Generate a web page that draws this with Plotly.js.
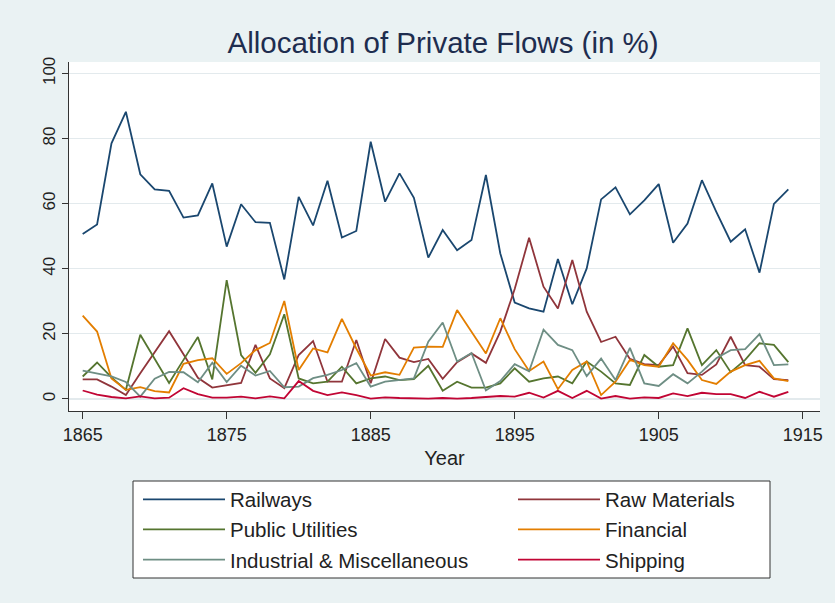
<!DOCTYPE html>
<html>
<head>
<meta charset="utf-8">
<script src="https://cdn.plot.ly/plotly-3.0.1.min.js"></script>
<style>html,body{margin:0;padding:0;background:#eaf2f3;}</style>
</head>
<body>
<div id="chart" style="width:835px;height:603px;"></div>
<script>
const years = [];
for (let y = 1865; y <= 1914; y++) years.push(y);

const railways = [50.7,53.6,78.5,88.2,69.0,64.4,63.9,55.7,56.4,66.2,46.8,59.8,54.3,54.1,36.7,62.1,53.3,67.0,49.6,51.6,79.0,60.6,69.3,61.8,43.4,51.9,45.7,48.8,68.8,44.7,29.6,27.8,26.8,43.0,29.1,40.1,61.3,65.0,56.7,61.0,66.0,48.0,53.9,67.2,57.5,48.3,52.1,38.8,59.9,64.4];
const rawMaterials = [6.0,6.0,3.8,1.2,7.9,14.3,20.8,13.7,6.5,3.5,4.1,4.9,16.6,6.3,3.3,13.5,17.8,5.3,5.3,18.1,4.8,18.4,12.7,11.3,12.3,6.2,11.3,14.0,11.1,20.7,33.8,49.5,34.5,27.8,42.7,26.8,17.5,19.1,12.3,10.7,10.4,16.1,7.9,7.4,10.6,19.1,10.4,9.9,6.1,5.8];
const publicUtilities = [6.9,11.2,6.6,2.8,19.7,12.3,4.9,12.0,19.0,6.0,36.5,13.5,8.0,13.7,26.0,6.3,4.8,5.3,9.9,4.8,6.3,6.9,5.8,6.1,10.2,2.5,5.3,3.5,3.5,4.8,9.4,5.3,6.3,6.9,4.8,11.5,8.4,4.8,4.3,13.5,9.9,10.4,21.7,10.4,15.0,8.2,12.0,17.1,16.6,11.3];
const financial = [25.6,20.7,6.3,2.8,3.6,2.4,2.0,10.8,11.9,12.5,7.7,11.0,15.0,17.2,30.1,8.9,15.5,14.3,24.6,15.5,7.2,8.2,7.4,15.8,16.1,16.0,27.3,20.7,14.0,24.8,15.3,8.6,11.5,3.0,8.9,11.5,1.2,5.3,12.0,10.4,9.9,17.1,12.0,5.8,4.6,8.4,10.4,11.7,6.3,5.5];
const industrial = [8.7,7.9,6.9,5.2,0.7,6.2,8.3,8.2,5.1,11.1,5.2,10.2,7.2,8.6,3.6,3.8,6.4,7.4,8.9,11.0,3.8,5.3,5.8,6.3,17.6,23.5,11.5,14.1,2.6,5.5,10.7,8.5,21.3,16.6,15.0,7.0,12.4,5.8,15.7,4.8,4.0,7.6,4.8,8.4,12.5,15.0,15.3,19.9,10.4,10.6];
const shipping = [2.6,1.3,0.6,0.2,0.8,0.2,0.4,3.3,1.5,0.4,0.4,0.7,0.2,0.8,0.2,5.5,2.5,1.2,2.0,1.2,0.1,0.5,0.3,0.1,0.1,0.3,0.1,0.3,0.7,0.9,0.7,1.9,0.4,2.5,0.3,2.5,0.1,0.9,0.1,0.5,0.3,1.7,0.9,1.9,1.5,1.5,0.3,2.2,0.7,2.2];

const xTicks = [1865,1875,1885,1895,1905,1915];
const yTicks = [0,20,40,60,80,100];

const seriesNames = ["Railways","Raw Materials","Public Utilities","Financial","Industrial & Miscellaneous","Shipping"];
const seriesData = [railways, rawMaterials, publicUtilities, financial, industrial, shipping];
const seriesColors = ["#1a476f","#90353b","#55752f","#e37e00","#6e8e84","#c10534"];
const seriesLegend = ["legend","legend2","legend","legend2","legend","legend2"];

const traces = seriesNames.map((name, i) => ({
  x: years, y: seriesData[i], name: name, type: "scatter", mode: "lines",
  line: {color: seriesColors[i], width: 1.8},
  legend: seriesLegend[i], legendgroup: "g" + i, hoverinfo: "skip"
}));

const FONT = "Arial, 'Liberation Sans', sans-serif";
const L = 69, R = 820, T = 62, B = 411;
const px2x = p => (p - L) / (R - L);
const px2y = p => (B - p) / (B - T);

const legendCommon = {
  orientation: "v", xref: "paper", yref: "paper", xanchor: "left", yanchor: "top",
  bgcolor: "rgba(0,0,0,0)", borderwidth: 0, itemwidth: 82, tracegroupgap: 0.5,
  font: {family: FONT, size: 20.5, color: "#222"}, itemclick: false, itemdoubleclick: false
};

const layout = {
  width: 835, height: 603,
  paper_bgcolor: "#eaf2f3", plot_bgcolor: "#ffffff",
  margin: {l: L, r: 835 - R, t: T, b: 603 - B, autoexpand: false},
  font: {family: FONT, color: "#222"},
  title: {text: "Allocation of Private Flows (in %)", font: {family: FONT, size: 29.5, color: "#1e2d4f"},
          xref: "container", x: 0.5306, xanchor: "center", yref: "container", y: 0.93, yanchor: "middle"},
  xaxis: {range: [1864.05, 1916.2], tickvals: xTicks, ticks: "outside", ticklen: 7, tickcolor: "#333",
          showline: true, linecolor: "#333", linewidth: 1, showgrid: false, zeroline: false,
          tickfont: {family: FONT, size: 18, color: "#222"},
          title: {text: "Year", font: {family: FONT, size: 20, color: "#222"}, standoff: 7}},
  yaxis: {range: [-3.7, 103.5], tickvals: yTicks, ticks: "outside", ticklen: 6, tickcolor: "#333",
          tickangle: -90, showline: true, linecolor: "#333", linewidth: 1,
          showgrid: true, gridcolor: "#e3eaed", gridwidth: 1.2, zeroline: false,
          tickfont: {family: FONT, size: 17, color: "#222"}},
  showlegend: true,
  legend: Object.assign({}, legendCommon, {x: px2x(138), y: px2y(479.5)}),
  legend2: Object.assign({}, legendCommon, {x: px2x(513), y: px2y(479.5)}),
  shapes: [{type: "rect", xref: "paper", yref: "paper", x0: px2x(133), x1: px2x(770),
            y0: px2y(578), y1: px2y(481), line: {color: "#333", width: 1}, fillcolor: "#ffffff", layer: "above"}]
};

Plotly.newPlot("chart", traces, layout, {displayModeBar: false, staticPlot: true});
</script>
</body>
</html>
